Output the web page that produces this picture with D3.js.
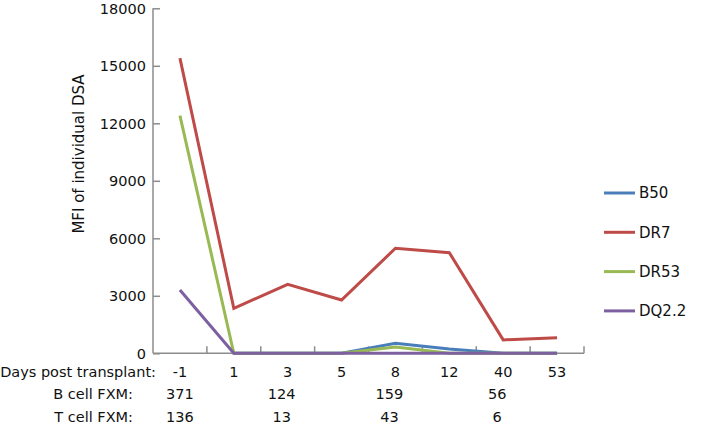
<!DOCTYPE html>
<html><head><meta charset="utf-8">
<script src="https://cdn.jsdelivr.net/npm/d3@7"></script>
<style>body{margin:0;background:#fff}svg{display:block}text{font-family:"DejaVu Sans",Verdana,sans-serif;fill:#111}</style>
</head><body><svg id="c" width="701" height="428"></svg>
<script>
const days = ["-1","1","3","5","8","12","40","53"];
const yTicks = [0,3000,6000,9000,12000,15000,18000];
const B50  = [null,0,0,0,520,220,0,0];
const DR7  = [15400,2350,3600,2780,5480,5250,700,810];
const DR53 = [12400,0,0,0,330,0,0,0];
const DQ22 = [3300,0,0,0,0,0,0,0];
const seriesNames = ["B50","DR7","DR53","DQ2.2"];
const seriesColors = ["#4A7EBB","#BE4B48","#98B954","#7D60A0"];
const bCellFXM = ["371",null,"124",null,"159",null,"56",null];
const tCellFXM = ["136",null,"13",null,"43",null,"6",null];
const series = [B50,DR7,DR53,DQ22];

const svg = d3.select("#c");
const x = d3.scaleBand().domain(days).range([153,584]);
const y = d3.scaleLinear().domain([0,18000]).range([353.3,8.3]);
const axisCol = "#8c8c8c";

// y axis
const ya = svg.append("g").attr("transform","translate(153,0)")
  .call(d3.axisRight(y).tickValues(yTicks).tickSize(7).tickFormat(""));
ya.selectAll("path,line").attr("stroke",axisCol).attr("stroke-width",1.5);
ya.select(".domain").attr("d","M0,"+y(18000)+"V"+y(0));
svg.append("g").selectAll("text").data(yTicks).join("text")
  .attr("x",146).attr("y",d=>y(d)).attr("dy","0.36em").attr("text-anchor","end")
  .style("font-size","14.5px").text(d=>d);
svg.append("text").attr("transform","translate(79,154) rotate(-90)")
  .attr("text-anchor","middle").attr("dy","0.36em").style("font-size","15px").text("MFI of individual DSA");

// x axis
const bounds = days.map(d=>x(d)+x.bandwidth());
svg.append("line").attr("x1",153).attr("x2",584).attr("y1",y(0)).attr("y2",y(0))
  .attr("stroke",axisCol).attr("stroke-width",1.5);
svg.append("g").selectAll("line").data(bounds).join("line")
  .attr("x1",d=>d).attr("x2",d=>d).attr("y1",y(0)).attr("y2",y(0)-7)
  .attr("stroke",axisCol).attr("stroke-width",1.5);

// lines
const line = d3.line().defined(d=>d!=null).x((d,i)=>x(days[i])+x.bandwidth()/2).y(d=>y(d));
series.forEach((s,k)=>{
  svg.append("path").datum(s).attr("d",line).attr("fill","none")
    .attr("stroke",seriesColors[k]).attr("stroke-width",3).attr("stroke-linejoin","miter");
});

// legend
const leg = svg.append("g").selectAll("g").data(seriesNames).join("g")
  .attr("transform",(d,i)=>`translate(604,${193+i*39.3})`);
leg.append("line").attr("x1",0).attr("x2",31).attr("stroke",(d,i)=>seriesColors[i]).attr("stroke-width",3);
leg.append("text").attr("x",35).attr("dy","0.36em").style("font-size","15px").text(d=>d);

// bottom rows
const rows = [["Days post transplant:",156,372,days],["B cell FXM:",133,394,bCellFXM],["T cell FXM:",133,417,tCellFXM]];
rows.forEach(r=>{
  svg.append("text").attr("x",r[1]).attr("y",r[2]).attr("dy","0.36em").attr("text-anchor","end")
    .style("font-size","14.5px").text(r[0]);
  svg.append("g").selectAll("text").data(r[3].map((v,i)=>({v,i})).filter(o=>o.v!=null)).join("text")
    .attr("x",o=>x(days[o.i])+x.bandwidth()/2 - (r[3]===days?0:(o.i===0?0:6)))
    .attr("y",r[2]).attr("dy","0.36em").attr("text-anchor","middle")
    .style("font-size","14.5px").text(o=>o.v);
});
</script></body></html>
